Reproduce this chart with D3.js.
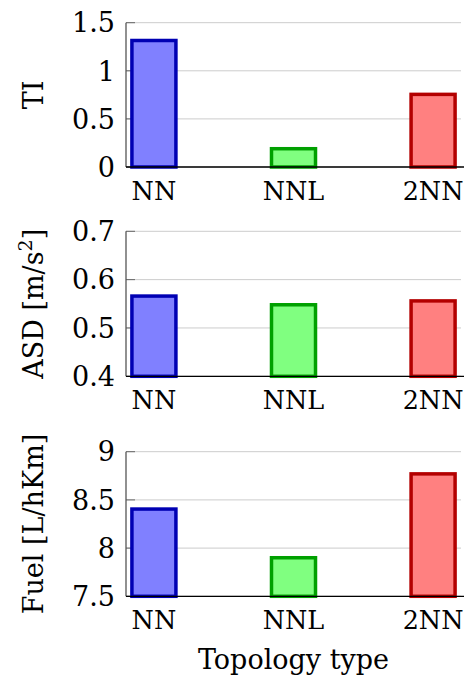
<!DOCTYPE html>
<html>
<head>
<meta charset="utf-8">
<script src="https://cdn.jsdelivr.net/npm/d3@7"></script>
<style>
  body { margin: 0; background: #fff; }
</style>
</head>
<body>
<div id="chart"></div>
<script>
const categories = ["NN", "NNL", "2NN"];
const tiValues = [1.315, 0.19, 0.755];
const asdValues = [0.566, 0.548, 0.556];
const fuelValues = [8.405, 7.9, 8.77];
const tiTicks = [0, 0.5, 1, 1.5];
const asdTicks = [0.4, 0.5, 0.6, 0.7];
const fuelTicks = [7.5, 8, 8.5, 9];

const fills = ["#8080ff", "#80ff80", "#ff8080"];
const strokes = ["#0000b3", "#00a000", "#b30000"];

const width = 464, height = 682;
const left = 126, right = 461;
const serif = "DejaVu Serif";
const fs = 27;

const svg = d3.select("#chart")
  .append("svg")
  .attr("width", width)
  .attr("height", height);

const x = d3.scalePoint()
  .domain(categories)
  .range([left, right])
  .padding(0.2);

const panels = [
  {values: tiValues, ticks: tiTicks, top: 22.7, bottom: 167, label: "TI"},
  {values: asdValues, ticks: asdTicks, top: 231.3, bottom: 376.3, label: "ASD"},
  {values: fuelValues, ticks: fuelTicks, top: 451.7, bottom: 596.3, label: "Fuel [L/hKm]"}
];

panels.forEach((p, pi) => {
  const y = d3.scaleLinear()
    .domain(d3.extent(p.ticks))
    .range([p.bottom, p.top]);
  const g = svg.append("g");

  // grid
  g.selectAll(".grid")
    .data(p.ticks)
    .join("line")
    .attr("x1", left).attr("x2", right)
    .attr("y1", d => y(d)).attr("y2", d => y(d))
    .attr("stroke", "#cccccc")
    .attr("stroke-width", 1);

  // tick marks
  g.selectAll(".tk")
    .data(p.ticks)
    .join("line")
    .attr("x1", left).attr("x2", left + 9)
    .attr("y1", d => y(d)).attr("y2", d => y(d))
    .attr("stroke", "#666")
    .attr("stroke-width", 1);

  // bars
  const bw = 44;
  g.selectAll(".bar")
    .data(p.values)
    .join("rect")
    .attr("x", (d, i) => x(categories[i]) - bw / 2)
    .attr("y", d => y(d))
    .attr("width", bw)
    .attr("height", d => p.bottom - y(d))
    .attr("fill", (d, i) => fills[i])
    .attr("stroke", (d, i) => strokes[i])
    .attr("stroke-width", 3.5);

  // axes lines
  g.append("line")
    .attr("x1", left).attr("x2", left)
    .attr("y1", p.top).attr("y2", p.bottom)
    .attr("stroke", "#555").attr("stroke-width", 1.3);
  g.append("line")
    .attr("x1", left).attr("x2", right + 3)
    .attr("y1", p.bottom).attr("y2", p.bottom)
    .attr("stroke", "#000").attr("stroke-width", 1.3);

  // y tick labels
  g.selectAll(".yl")
    .data(p.ticks)
    .join("text")
    .attr("x", 115)
    .attr("y", d => y(d))
    .attr("dy", "0.36em")
    .attr("text-anchor", "end")
    .attr("font-family", serif)
    .attr("font-size", fs)
    .text(d => d3.format("")(d));

  // x tick labels
  g.selectAll(".xl")
    .data(categories)
    .join("text")
    .attr("x", d => x(d))
    .attr("y", p.bottom + 33)
    .attr("text-anchor", "middle")
    .attr("font-family", serif)
    .attr("font-size", 25.5)
    .text(d => d);

  // y axis title
  const t = g.append("text")
    .attr("transform", `translate(43, ${(p.top + p.bottom) / 2}) rotate(-90)`)
    .attr("text-anchor", "middle")
    .attr("font-family", serif)
    .attr("font-size", fs);
  if (pi === 1) {
    t.append("tspan").text("ASD [m/s");
    t.append("tspan").attr("font-size", 19).attr("dy", -11).text("2");
    t.append("tspan").attr("dy", 11).text("]");
  } else {
    t.text(p.label);
  }
});

svg.append("text")
  .attr("x", (left + right) / 2)
  .attr("y", 669)
  .attr("text-anchor", "middle")
  .attr("font-family", serif)
  .attr("font-size", fs)
  .text("Topology type");
</script>
</body>
</html>
